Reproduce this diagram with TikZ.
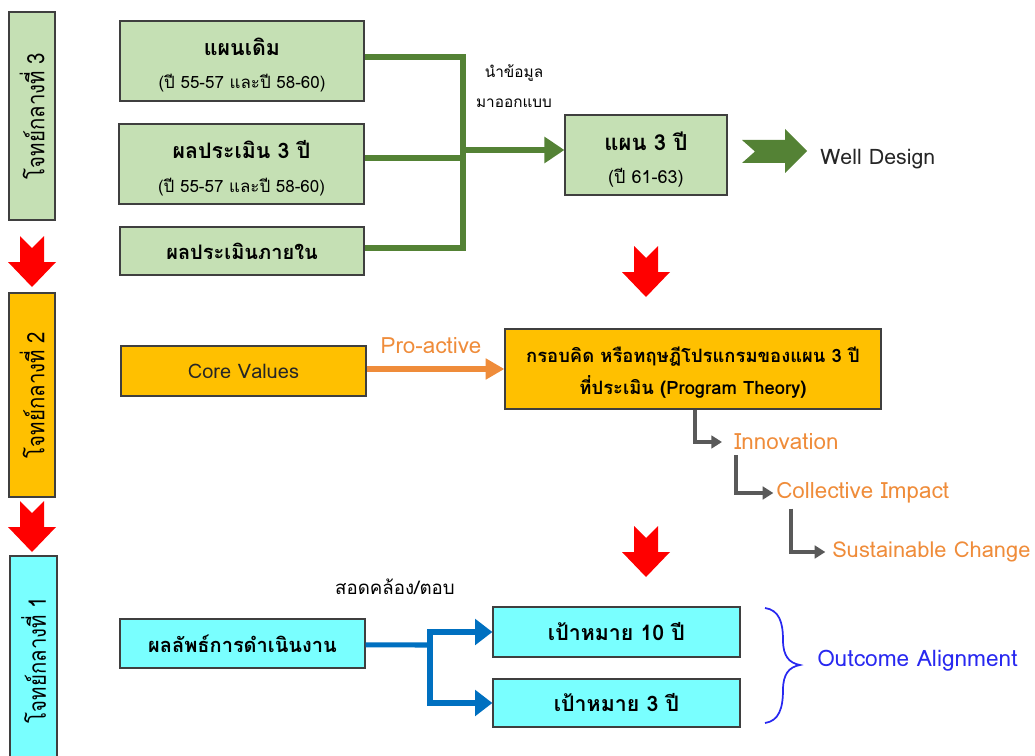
\documentclass[tikz,border=0pt]{standalone}
\usepackage{fontspec}
\usepackage{graphicx}
\setmainfont{Loma}[Script=Thai]
\usetikzlibrary{arrows.meta}
\definecolor{lgreen}{HTML}{C5E0B4}
\definecolor{dgreen}{HTML}{548235}
\definecolor{gold}{HTML}{FFC000}
\definecolor{ltorange}{HTML}{EF8C3A}
\definecolor{cyanbox}{HTML}{79FFFF}
\definecolor{barrow}{HTML}{0070C0}
\definecolor{garrow}{HTML}{595959}
\definecolor{oblue}{HTML}{2828F0}
\definecolor{bordergray}{HTML}{3F3F3F}
\definecolor{textdark}{HTML}{262626}
\begin{document}
\begin{tikzpicture}[x=0.75pt,y=-0.75pt,
  box/.style={draw=bordergray,line width=0.9pt,inner sep=0pt,align=center,
    font=\bfseries\fontsize{15}{23}\selectfont},
  btext/.style={inner sep=0pt,align=center,font=\bfseries\fontsize{16}{23}\selectfont},
  lbox/.style={draw=bordergray,line width=0.9pt,inner sep=0pt,rotate=90,
    font=\fontsize{18}{20}\selectfont},
  gline/.style={draw=dgreen,line width=3.8pt},
  bline/.style={draw=barrow,line width=3.8pt},
  grayarr/.style={draw=garrow,line width=2.6pt,-{Triangle[length=8pt,width=9.5pt]}},
  otext/.style={text=ltorange,font=\fontsize{16.8}{18}\selectfont,inner sep=0pt},
  redarrow/.pic={\fill[red] (-12,0) -- (0,12) -- (12,0) -- (12,26) -- (24,26) -- (0,51) -- (-24,26) -- (-12,26) -- cycle;}
]
\useasboundingbox (0,0) rectangle (1035,756);

% left column
\node[lbox,fill=lgreen,minimum width=156pt,minimum height=34.5pt] (L3) at (32,116) {\scalebox{0.85}[1]{โจทย์กลางที่ 3}};
\node[lbox,fill=gold,minimum width=153pt,minimum height=34.5pt] (L2) at (32,395) {\scalebox{0.85}[1]{โจทย์กลางที่ 2}};
\node[lbox,fill=cyanbox,minimum width=156pt,minimum height=35.25pt] (L1) at (33.5,660) {\scalebox{0.85}[1]{โจทย์กลางที่ 1}};
\pic at (32,236) {redarrow};
\pic at (32,501) {redarrow};
\pic at (646,246) {redarrow};
\pic at (646,526) {redarrow};

% top section
\node[box,fill=lgreen,minimum width=183pt,minimum height=60pt] (A) at (242,61) {};
\node[btext] (At) at ([yshift=-3pt]A.center)
  {แผนเดิม\\[2pt]{\normalfont\fontsize{12.7}{14}\selectfont (ปี 55-57 และปี 58-60)}};
\node[box,fill=lgreen,minimum width=183.75pt,minimum height=60pt] (B) at (241.5,164) {};
\node[btext] (Bt) at ([yshift=-3.3pt]B.center)
  {ผลประเมิน 3 ปี\\[2pt]{\normalfont\fontsize{12.7}{14}\selectfont (ปี 55-57 และปี 58-60)}};
\node[box,fill=lgreen,minimum width=183pt,minimum height=36pt] (C) at (242,251) {ผลประเมินภายใน};
\node[box,fill=lgreen,minimum width=121.5pt,minimum height=60pt] (D) at (646,155) {};
\node[btext,font=\bfseries\fontsize{16.5}{23}\selectfont] (Dt) at ([yshift=-3.3pt]D.center)
  {แผน 3 ปี\\[2pt]{\normalfont\fontsize{13.5}{14}\selectfont (ปี 61-63)}};
\coordinate (jt) at (463,57);
\coordinate (jb) at (463,248);
\coordinate (jm) at (463,150);
\draw[gline] ([yshift=3pt]A.east) -- (jt) -- (jb) -- ([yshift=2.25pt]C.east);
\draw[gline] ([yshift=4.5pt]B.east) -- (463,158);
\draw[gline,-{Triangle[length=15pt,width=19pt]}] (jm) -- ([yshift=3.75pt]D.west);
\node[font=\fontsize{11.5}{22}\selectfont,align=center,inner sep=0pt] (lab1) at (514,86) {นำข้อมูล\\มาออกแบบ};
\fill[dgreen] (742,140) -- (785,140) -- (785,129) -- (807,151) -- (785,173) -- (785,163) -- (742,163) -- (755,151.5) -- cycle;
\node[anchor=west,text=textdark,font=\fontsize{16}{18}\selectfont,inner sep=0pt] (wd) at (820,159) {Well Design};

% middle section
\node[box,fill=gold,minimum width=183.75pt,minimum height=37.5pt,font=\normalfont\fontsize{15}{16}\selectfont,text=textdark] (CV) at (243.5,371) {Core Values};
\node[box,fill=gold,minimum width=282pt,minimum height=60pt] (E) at (693,369) {};
\node[btext,font=\bfseries\fontsize{13.8}{22}\selectfont] (Et) at ([yshift=-3pt]E.center)
  {กรอบคิด หรือทฤษฎีโปรแกรมของแผน 3 ปี\\[2pt]ที่ประเมิน (Program Theory)};
\draw[draw=ltorange,line width=3.8pt,-{Triangle[length=14pt,width=15pt]}] (CV.east |- 0,369) -- (E.west |- 0,369);
\node[otext] (pa) at (431,346) {Pro-active};
\node[otext,anchor=west] (inn) at (734,442) {Innovation};
\node[otext,anchor=west] (coll) at (776,493) {Collective Impact};
\node[otext,anchor=west,font=\fontsize{16.4}{18}\selectfont] (sus) at (832,552) {Sustainable Change};
\draw[grayarr] (695,0 |- E.south) |- ([xshift=-9pt]inn.west);
\draw[grayarr] (736,0 |- inn.south) ++(0,5) |- ([xshift=-2pt]coll.west);
\draw[grayarr] (791,0 |- coll.south) ++(0,5) |- ([xshift=-5pt]sus.west);

% bottom section
\node[font=\fontsize{14}{16}\selectfont,inner sep=0pt] (lab2) at (395,587) {สอดคล้อง/ตอบ};
\node[box,fill=cyanbox,minimum width=183.75pt,minimum height=36.75pt] (F) at (242.5,643.5) {ผลลัพธ์การดำเนินงาน};
\node[box,fill=cyanbox,minimum width=185.25pt,minimum height=37.5pt,font=\bfseries\fontsize{16}{18}\selectfont] (G) at (616.5,632) {เป้าหมาย 10 ปี};
\node[box,fill=cyanbox,minimum width=185.25pt,minimum height=36pt,font=\bfseries\fontsize{16}{18}\selectfont] (H) at (616.5,703) {เป้าหมาย 3 ปี};
\coordinate (bj) at (430,645);
\draw[bline] ([yshift=-1pt]F.east) -- (bj);
\draw[bline,-{Triangle[length=13pt,width=19pt]}] (bj) |- (G.west);
\draw[bline,-{Triangle[length=13pt,width=19pt]}] (bj) |- (H.west);
\draw[oblue,line width=1.3pt] (765,608) .. controls (779,610) and (783,622) .. (783,640)
  .. controls (783,656) and (789,663) .. (800,665)
  .. controls (789,667) and (783,674) .. (783,690)
  .. controls (783,708) and (779,721) .. (765,723);
\node[anchor=west,text=oblue,font=\fontsize{17}{18}\selectfont,inner sep=0pt] (oa) at (817,661) {Outcome Alignment};
\end{tikzpicture}
\end{document}
